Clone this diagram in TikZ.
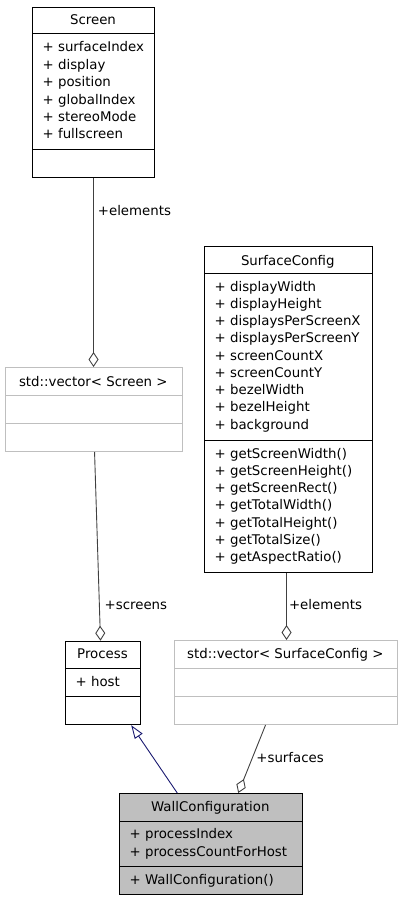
\documentclass[tikz,border=0pt]{standalone}
\usepackage{fontspec}
\setmainfont{DejaVu Sans}
\usetikzlibrary{arrows.meta}
\definecolor{edgegray}{HTML}{404040}
\definecolor{boxgray}{HTML}{BFBFBF}
\definecolor{inhblue}{HTML}{191970}
\tikzset{
  cls/.style={draw=black, line width=1pt, inner sep=0pt, anchor=north west},
  tmpl/.style={draw=boxgray, line width=1pt, inner sep=0pt, anchor=north west},
  sep/.style={draw=black, line width=1pt},
  tsep/.style={draw=boxgray, line width=1pt},
  ttl/.style={anchor=base, inner sep=0pt, font=\fontsize{13.33}{16}\selectfont},
  mem/.style={anchor=base west, inner sep=0pt, font=\fontsize{13.33}{16}\selectfont},
  lbl/.style={anchor=base west, inner sep=0pt, font=\fontsize{13.33}{16}\selectfont},
  agg/.style={draw=edgegray, line width=0.9pt, -{Diamond[open, length=15pt, width=10pt, line width=0.9pt]}},
  inh/.style={draw=inhblue, line width=0.9pt, -{Triangle[open, length=13.4pt, width=9.3pt, line width=0.9pt]}}
}
\begin{document}
\begin{tikzpicture}[x=1pt, y=-1pt]
\useasboundingbox (0,0) rectangle (401,901);

% Screen
\node[cls, minimum width=122pt, minimum height=170pt] (screen) at (32,7) {};
\draw[sep] (32,33.5) -- (154,33.5);
\draw[sep] (32,149.3) -- (154,149.3);
\node[ttl] (screenT) at (93,25) {Screen};
\node[mem] (s1) at (42.5,52) {+ surfaceIndex};
\node[mem] (s2) at (42.5,69.4) {+ display};
\node[mem] (s3) at (42.5,86.8) {+ position};
\node[mem] (s4) at (42.5,104.2) {+ globalIndex};
\node[mem] (s5) at (42.5,121.6) {+ stereoMode};
\node[mem] (s6) at (42.5,139) {+ fullscreen};

% std::vector< Screen >
\node[tmpl, minimum width=176.7pt, minimum height=84pt] (vscreen) at (5,367) {};
\draw[tsep] (5,395) -- (181.7,395);
\draw[tsep] (5,423) -- (181.7,423);
\node[ttl] (vscreenT) at (93.3,386) {std::vector< Screen >};

% SurfaceConfig
\node[cls, minimum width=167.7pt, minimum height=326.3pt] (surf) at (204,245.7) {};
\draw[sep] (204,273.3) -- (371.7,273.3);
\draw[sep] (204,440.7) -- (371.7,440.7);
\node[ttl] (surfT) at (287.8,265) {SurfaceConfig};
\node[mem] (a1) at (214.5,291) {+ displayWidth};
\node[mem] (a2) at (214.5,308.25) {+ displayHeight};
\node[mem] (a3) at (214.5,325.5) {+ displaysPerScreenX};
\node[mem] (a4) at (214.5,342.75) {+ displaysPerScreenY};
\node[mem] (a5) at (214.5,360) {+ screenCountX};
\node[mem] (a6) at (214.5,377.25) {+ screenCountY};
\node[mem] (a7) at (214.5,394.5) {+ bezelWidth};
\node[mem] (a8) at (214.5,411.75) {+ bezelHeight};
\node[mem] (a9) at (214.5,429) {+ background};
\node[mem] (m1) at (214.5,458) {+ getScreenWidth()};
\node[mem] (m2) at (214.5,475.25) {+ getScreenHeight()};
\node[mem] (m3) at (214.5,492.5) {+ getScreenRect()};
\node[mem] (m4) at (214.5,509.75) {+ getTotalWidth()};
\node[mem] (m5) at (214.5,527) {+ getTotalHeight()};
\node[mem] (m6) at (214.5,544.25) {+ getTotalSize()};
\node[mem] (m7) at (214.5,561.5) {+ getAspectRatio()};

% std::vector< SurfaceConfig >
\node[tmpl, minimum width=222.7pt, minimum height=84pt] (vsurf) at (174,640) {};
\draw[tsep] (174,668.3) -- (396.7,668.3);
\draw[tsep] (174,696.7) -- (396.7,696.7);
\node[ttl] (vsurfT) at (285.3,658.5) {std::vector< SurfaceConfig >};

% Process
\node[cls, minimum width=75pt, minimum height=83.5pt] (proc) at (65,640.7) {};
\draw[sep] (65,668.3) -- (140,668.3);
\draw[sep] (65,696.7) -- (140,696.7);
\node[ttl] (procT) at (102.5,658.5) {Process};
\node[mem] (p1) at (75.5,686) {+ host};

% WallConfiguration
\node[cls, fill=boxgray, minimum width=182.7pt, minimum height=101pt] (wall) at (119,793) {};
\draw[sep] (119,821) -- (301.7,821);
\draw[sep] (119,866) -- (301.7,866);
\node[ttl] (wallT) at (210.3,811.7) {WallConfiguration};
\node[mem] (w1) at (129.5,838.3) {+ processIndex};
\node[mem] (w2) at (129.5,856) {+ processCountForHost};
\node[mem] (w3) at (129.5,884) {+ WallConfiguration()};

% connectors
\draw[agg] (screen.south) -- (screen.south |- vscreen.north);
\node[lbl] (lblE1) at (97.7,215) {+elements};

\coordinate (vsB) at ([xshift=0.7pt]vscreen.south);
\coordinate (prT) at ([xshift=-2.5pt]proc.north);
\draw[agg] (vsB) -- (prT);
\node[lbl] (lblS) at (104.5,609) {+screens};

\coordinate (sfB) at ([xshift=-1.8pt]surf.south);
\draw[agg] (sfB) -- (sfB |- vsurf.north);
\node[lbl] (lblE2) at (288.8,609) {+elements};

\coordinate (vfB) at ([xshift=-20.3pt]vsurf.south);
\coordinate (wlT) at ([xshift=27.4pt]wall.north);
\draw[agg] (vfB) -- (wlT);
\node[lbl] (lblF) at (256.2,762) {+surfaces};

\coordinate (wlT2) at ([xshift=-33.6pt]wall.north);
\coordinate (prB) at ([xshift=28.2pt]proc.south);
\draw[inh] (wlT2) -- (prB);
\end{tikzpicture}
\end{document}
